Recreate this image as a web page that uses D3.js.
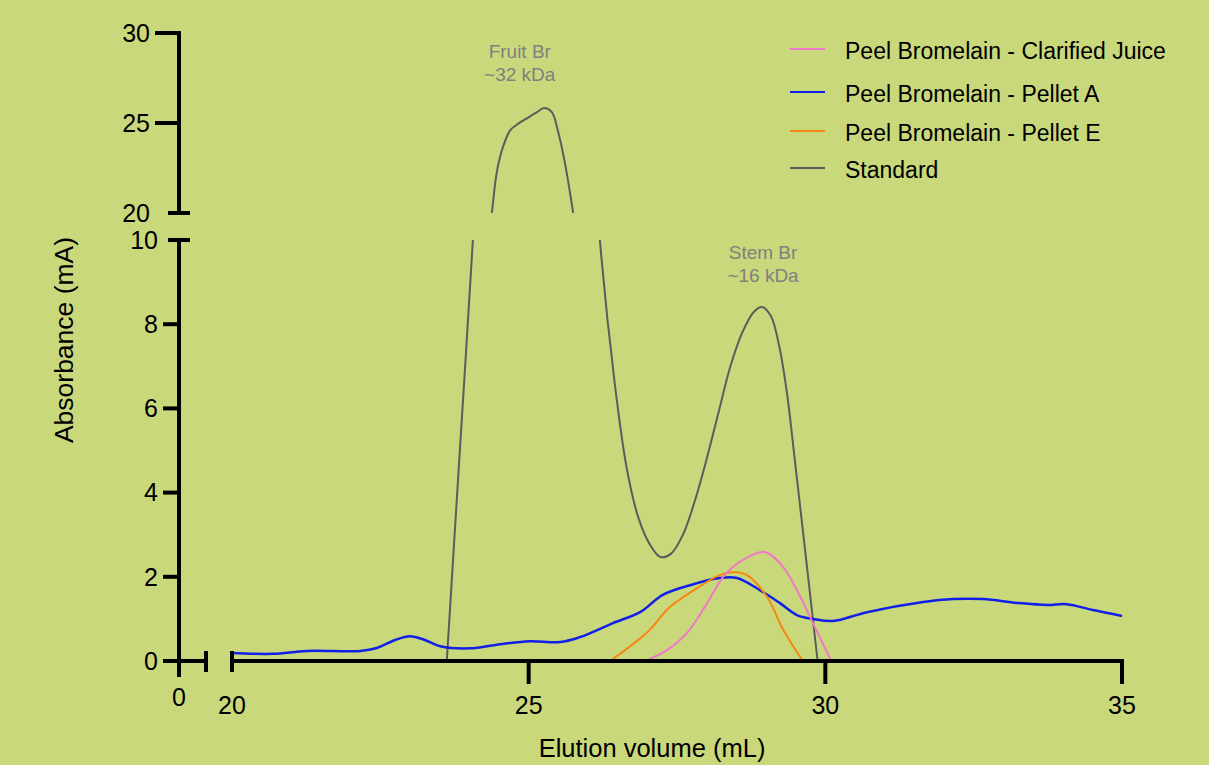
<!DOCTYPE html>
<html lang="en">
<head>
  <meta charset="UTF-8">
  <title>Elution profile</title>
  <script src="https://d3js.org/d3.v7.min.js"></script>
  <style>
    html, body { margin: 0; padding: 0; background: #cad87c; }
    svg { display: block; font-family: "Liberation Sans", Arial, sans-serif; }
    .axis-line { stroke: #000; stroke-width: 4; fill: none; stroke-linecap: butt; }
    .tick-label { font-size: 25px; fill: #000; }
    .title { font-size: 25.5px; fill: #000; }
    .note { font-size: 19px; fill: #808080; }
    .legend text { font-size: 23px; fill: #000; }
  </style>
</head>
<body>
  <svg width="1209" height="765"></svg>

  <script>
    // Data (elution volume in mL, absorbance in mA)
    const seriesNames = ["Peel Bromelain - Clarified Juice", "Peel Bromelain - Pellet A", "Peel Bromelain - Pellet E", "Standard"];
    const seriesColors = ["#ef78c9", "#1020e8", "#f5880f", "#5c5c5c"];

    const clarifiedJuice = [
      [26.96, 0], [27.33, 0.26], [27.67, 0.67], [28.01, 1.38], [28.28, 2.0],
      [28.61, 2.4], [28.98, 2.59], [29.29, 2.23], [29.58, 1.52], [29.79, 0.9], [30.1, 0]
    ];
    const pelletA = [
      [20.0, 0.19], [20.69, 0.17], [21.26, 0.24], [22.16, 0.24], [22.44, 0.31],
      [22.75, 0.5], [23.0, 0.59], [23.25, 0.5], [23.51, 0.35], [24.01, 0.3],
      [24.52, 0.4], [25.02, 0.47], [25.53, 0.45], [25.87, 0.57], [26.42, 0.9],
      [26.88, 1.16], [27.26, 1.57], [27.72, 1.8], [28.22, 1.97], [28.51, 1.97],
      [28.89, 1.69], [29.23, 1.38], [29.52, 1.09], [29.79, 1.0], [30.13, 0.95],
      [30.7, 1.16], [31.65, 1.4], [32.15, 1.47], [32.66, 1.47], [33.23, 1.38],
      [33.74, 1.33], [34.07, 1.35], [34.51, 1.21], [35.0, 1.07]
    ];
    const pelletE = [
      [26.37, 0], [26.99, 0.67], [27.38, 1.28], [27.84, 1.73], [28.22, 2.04],
      [28.51, 2.11], [28.68, 2.04], [29.02, 1.52], [29.29, 0.74], [29.62, 0]
    ];
    const standard = [
      [23.62, 0], [23.84, 5.0], [24.06, 10], [24.22, 14.5], [24.38, 20],
      [24.47, 22.4], [24.57, 23.7], [24.69, 24.6], [24.8, 24.9], [24.99, 25.3],
      [25.14, 25.6], [25.26, 25.83], [25.39, 25.6], [25.49, 24.6], [25.61, 22.8],
      [25.75, 20], [25.96, 15], [26.2, 10], [26.45, 6.6], [26.65, 4.6],
      [26.85, 3.4], [27.05, 2.75], [27.22, 2.47], [27.4, 2.55], [27.6, 3.0],
      [27.8, 3.8], [28.0, 4.8], [28.2, 5.9], [28.4, 7.0], [28.6, 7.8],
      [28.8, 8.3], [28.93, 8.41], [29.08, 8.2], [29.22, 7.5], [29.35, 6.4],
      [29.5, 4.6], [29.87, 0]
    ];
    const seriesData = [clarifiedJuice, pelletA, pelletE, standard];

    const xTicks = [20, 25, 30, 35];
    const yTicksLow = [0, 2, 4, 6, 8];
    const yTicksHigh = [20, 25, 30];
    const notes = [
      { x: 24.85, y: 28.6, lines: ["Fruit Br", "~32 kDa"] },
      { x: 28.95, y: 9.55, lines: ["Stem Br", "~16 kDa"] }
    ];

    const svg = d3.select("svg");
    const axisX = 179;          // y axis position
    const baseY = 661;          // x axis position

    // Scales for the broken axes
    const x = d3.scaleLinear().domain([20, 35]).range([232, 1122]);
    const yLow = d3.scaleLinear().domain([0, 10]).range([baseY, 240]);
    const yHigh = d3.scaleLinear().domain([20, 30]).range([213, 33]);

    // Clip areas for each panel
    const defs = svg.append("defs");
    defs.append("clipPath").attr("id", "clipLow").append("rect")
      .attr("x", x(20)).attr("y", yLow(10)).attr("width", x(35) - x(20) + 2).attr("height", yLow(0) - yLow(10) + 2);
    defs.append("clipPath").attr("id", "clipHigh").append("rect")
      .attr("x", x(20)).attr("y", yHigh(30)).attr("width", x(35) - x(20) + 2).attr("height", yHigh(20) - yHigh(30));

    // Lines
    const lineLow = d3.line().x(d => x(d[0])).y(d => yLow(d[1])).curve(d3.curveCatmullRom.alpha(0.5));
    const lineHigh = d3.line().x(d => x(d[0])).y(d => yHigh(d[1])).curve(d3.curveCatmullRom.alpha(0.5));

    const drawOrder = [3, 1, 2, 0];
    const gLow = svg.append("g").attr("clip-path", "url(#clipLow)");
    drawOrder.forEach(i => {
      gLow.append("path")
        .attr("d", lineLow(seriesData[i]))
        .attr("fill", "none")
        .attr("stroke", seriesColors[i])
        .attr("stroke-width", i === 1 ? 2.5 : 2);
    });
    svg.append("g").attr("clip-path", "url(#clipHigh)")
      .append("path")
      .attr("d", lineHigh(standard))
      .attr("fill", "none")
      .attr("stroke", seriesColors[3])
      .attr("stroke-width", 2);

    // Axes (drawn by hand because of the breaks)
    const ax = svg.append("g");
    // lower y segment, extends below to act as the x = 0 tick
    ax.append("line").attr("class", "axis-line")
      .attr("x1", axisX).attr("x2", axisX).attr("y1", yLow(10)).attr("y2", baseY + 16);
    ax.append("line").attr("class", "axis-line")
      .attr("x1", axisX - 11).attr("x2", axisX + 11).attr("y1", yLow(10)).attr("y2", yLow(10));
    yTicksLow.forEach(t => {
      ax.append("line").attr("class", "axis-line")
        .attr("x1", axisX - 16).attr("x2", axisX).attr("y1", yLow(t)).attr("y2", yLow(t));
      ax.append("text").attr("class", "tick-label")
        .attr("x", axisX - 21).attr("y", yLow(t)).attr("dy", "0.35em")
        .attr("text-anchor", "end").text(t);
    });
    ax.append("text").attr("class", "tick-label")
      .attr("x", axisX - 21).attr("y", yLow(10)).attr("dy", "0.35em")
      .attr("text-anchor", "end").text(10);

    // upper y segment
    ax.append("line").attr("class", "axis-line")
      .attr("x1", axisX).attr("x2", axisX).attr("y1", yHigh(30) - 2).attr("y2", yHigh(20));
    ax.append("line").attr("class", "axis-line")
      .attr("x1", axisX - 11).attr("x2", axisX + 11).attr("y1", yHigh(20)).attr("y2", yHigh(20));
    yTicksHigh.forEach(t => {
      if (t !== 20) {
        ax.append("line").attr("class", "axis-line")
          .attr("x1", axisX - 24).attr("x2", axisX).attr("y1", yHigh(t)).attr("y2", yHigh(t));
      }
      ax.append("text").attr("class", "tick-label")
        .attr("x", axisX - 29).attr("y", yHigh(t)).attr("dy", "0.35em")
        .attr("text-anchor", "end").text(t);
    });

    // left x segment (0 only)
    ax.append("line").attr("class", "axis-line")
      .attr("x1", axisX).attr("x2", 206).attr("y1", baseY).attr("y2", baseY);
    ax.append("line").attr("class", "axis-line")
      .attr("x1", 206).attr("x2", 206).attr("y1", baseY - 10).attr("y2", baseY + 11);
    ax.append("text").attr("class", "tick-label")
      .attr("x", axisX).attr("y", baseY + 36).attr("dy", "0.35em")
      .attr("text-anchor", "middle").text(0);

    // main x segment 20-35
    ax.append("line").attr("class", "axis-line")
      .attr("x1", x(20)).attr("x2", x(35) + 2).attr("y1", baseY).attr("y2", baseY);
    ax.append("line").attr("class", "axis-line")
      .attr("x1", x(20)).attr("x2", x(20)).attr("y1", baseY - 10).attr("y2", baseY + 11);
    xTicks.forEach(t => {
      if (t !== 20) {
        ax.append("line").attr("class", "axis-line")
          .attr("x1", x(t)).attr("x2", x(t)).attr("y1", baseY).attr("y2", baseY + 23);
      }
      ax.append("text").attr("class", "tick-label")
        .attr("x", x(t)).attr("y", baseY + 44).attr("dy", "0.35em")
        .attr("text-anchor", "middle").text(t);
    });

    // Axis titles
    svg.append("text").attr("class", "title")
      .attr("transform", "translate(64,340) rotate(-90)")
      .attr("text-anchor", "middle").attr("dy", "0.35em")
      .style("font-size", "26.5px")
      .text("Absorbance (mA)");
    svg.append("text").attr("class", "title")
      .attr("x", 652).attr("y", 748).attr("dy", "0.35em")
      .attr("text-anchor", "middle")
      .text("Elution volume (mL)");

    // Peak annotations
    notes.forEach(n => {
      const yPos = n.y >= 20 ? yHigh(n.y) : yLow(n.y);
      const t = svg.append("text").attr("class", "note").attr("text-anchor", "middle");
      n.lines.forEach((l, i) => {
        t.append("tspan").attr("x", x(n.x)).attr("y", yPos + i * 23).text(l);
      });
    });

    // Legend
    const legendY = [49, 92, 131, 168];
    const legend = svg.append("g").attr("class", "legend");
    seriesNames.forEach((name, i) => {
      legend.append("line")
        .attr("x1", 790).attr("x2", 825)
        .attr("y1", legendY[i]).attr("y2", legendY[i])
        .attr("stroke", seriesColors[i]).attr("stroke-width", 2);
      legend.append("text")
        .attr("x", 845).attr("y", legendY[i] + 2).attr("dy", "0.35em")
        .text(name);
    });
  </script>
</body>
</html>
